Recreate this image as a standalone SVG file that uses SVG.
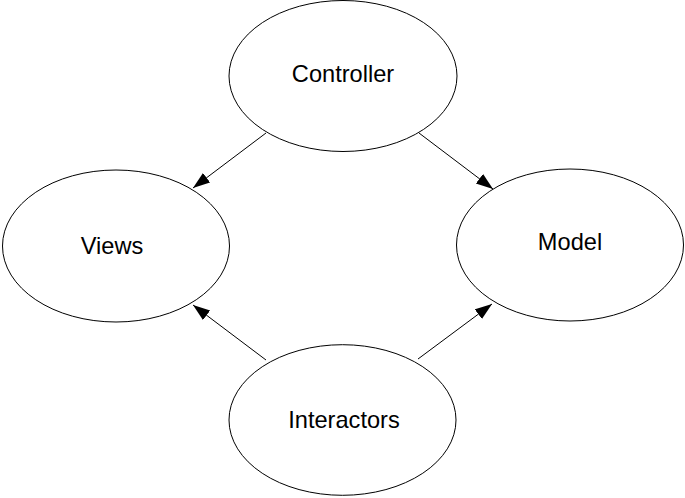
<svg xmlns="http://www.w3.org/2000/svg" width="685" height="498" viewBox="0 0 685 498">
<style>
.node ellipse{fill:#fff;stroke:#000;stroke-width:1}
.node text{font-family:"Liberation Sans",Arial,sans-serif;font-size:23.6px;fill:#000;text-anchor:middle}
.edge{stroke:#000;stroke-width:1;fill:none;marker-end:url(#arr)}
</style>
<defs>
<marker id="arr" markerUnits="userSpaceOnUse" markerWidth="19" markerHeight="13" refX="17" refY="6" orient="auto">
<path d="M0,0 L17,6 L0,12 z" fill="#000"/>
</marker>
</defs>
<rect width="685" height="498" fill="#fff"/>
<g id="connectors">
<line class="edge" x1="266" y1="133" x2="193" y2="188"/>
<line class="edge" x1="419" y1="133" x2="493" y2="189"/>
<line class="edge" x1="266" y1="360" x2="193" y2="305"/>
<line class="edge" x1="418" y1="359" x2="492" y2="304"/>
</g>
<g id="controller" class="node">
<ellipse cx="343" cy="76" rx="114" ry="75.5"/>
<text x="343" y="82">Controller</text>
</g>
<g id="views" class="node">
<ellipse cx="116" cy="246" rx="113.5" ry="76"/>
<text x="112" y="254">Views</text>
</g>
<g id="model" class="node">
<ellipse cx="570" cy="245" rx="113.5" ry="76"/>
<text x="570" y="250">Model</text>
</g>
<g id="interactors" class="node">
<ellipse cx="342.5" cy="420" rx="113.5" ry="75.3"/>
<text x="344" y="428">Interactors</text>
</g>
</svg>
